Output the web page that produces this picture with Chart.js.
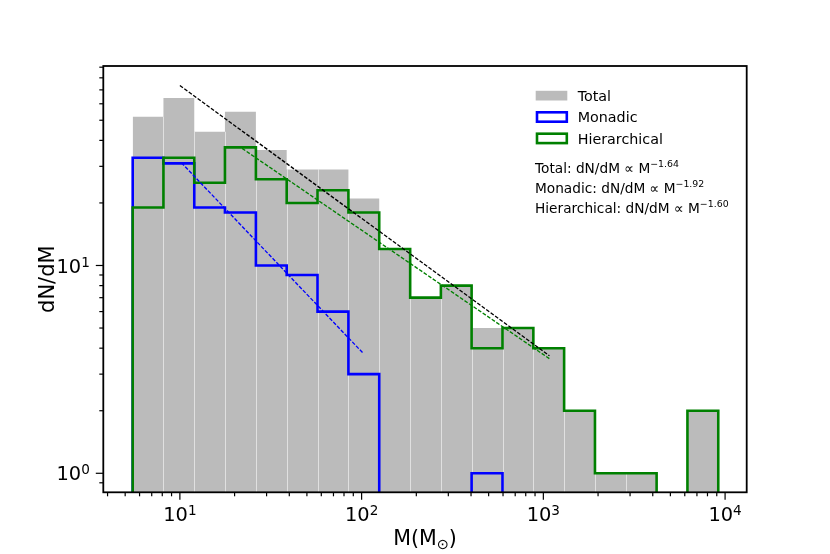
<!DOCTYPE html>
<html>
<head>
<meta charset="utf-8">
<script src="https://cdn.jsdelivr.net/npm/chart.js@4.4.1/dist/chart.umd.min.js"></script>
<style>
  html, body { margin: 0; padding: 0; background: #fff; }
  #wrap { width: 830px; height: 554px; }
</style>
</head>
<body>
<div id="wrap"><canvas id="histChart" width="830" height="554"></canvas></div>
<script>
// bin edges in M_sun (log spaced)
const binEdges = [5.5, 8.12, 12.0, 17.7, 26.2, 38.7, 57.2, 84.6, 125, 185, 273, 403, 596, 881, 1301, 1923, 2842, 4200, 6206, 9172];
const totalCounts = [52, 64, 44, 55, 36, 29, 29, 21, 12, 7, 8, 5, 5, 4, 2, 1, 1, 0, 2];
const monadicCounts = [33, 31, 19, 18, 10, 9, 6, 3, 0, 0, 0, 1, 0, 0, 0, 0, 0, 0, 0];
const hierCounts = [19, 33, 25, 37, 26, 20, 23, 18, 12, 7, 8, 4, 5, 4, 2, 1, 1, 0, 2];

// dashed power-law fits, end points
const fitTotalM = [10, 1080];
const fitTotalN = [73.5, 3.68];
const fitMonadicM = [10.2, 102];
const fitMonadicN = [31.2, 3.78];
const fitHierM = [22, 1080];
const fitHierN = [36.6, 3.56];

const legendLabels = ["Total", "Monadic", "Hierarchical"];
const fitNames = ["Total", "Monadic", "Hierarchical"];
const fitSlopes = ["1.64", "1.92", "1.60"];

const xMajorTicks = [10, 100, 1000, 10000];
const xTickExp = ["1", "2", "3", "4"];
const xMinorTicks = [4, 5, 6, 7, 8, 9, 20, 30, 40, 50, 60, 70, 80, 90,
  200, 300, 400, 500, 600, 700, 800, 900, 2000, 3000, 4000, 5000, 6000, 7000, 8000, 9000];
const yMajorTicks = [1, 10];
const yTickExp = ["0", "1"];
const yMinorTicks = [0.9, 2, 3, 4, 5, 6, 7, 8, 9, 20, 30, 40, 50, 60, 70, 80, 90];

const FONT = '"DejaVu Sans", "Liberation Sans", sans-serif';
const FLOOR = 0.1; // below the axis: empty bins fall out of view

// outline points: horizontal at each count, vertical at each edge
function stepPoints(counts) {
  const pts = [{ x: binEdges[0], y: FLOOR }];
  counts.forEach((c, i) => pts.push({ x: binEdges[i + 1], y: c > 0 ? c : FLOOR }));
  pts.push({ x: binEdges[counts.length], y: FLOOR });
  return pts;
}

function lineSet(xs, ys) {
  return xs.map((x, i) => ({ x: x, y: ys[i] }));
}

function drawPow(ctx, base, exp, x, y, align, baseSize, supSize, rise) {
  ctx.font = baseSize + "px " + FONT;
  const wb = ctx.measureText(base).width;
  ctx.font = supSize + "px " + FONT;
  const ws = ctx.measureText(exp).width;
  let left = x;
  if (align === "center") left = x - (wb + ws) / 2;
  if (align === "right") left = x - wb - ws;
  ctx.textAlign = "left";
  ctx.font = baseSize + "px " + FONT;
  ctx.fillText(base, left, y);
  ctx.font = supSize + "px " + FONT;
  ctx.fillText(exp, left + wb, y - rise);
}

const axisFrame = {
  id: "axisFrame",
  afterDatasetDraw(chart, args) {
    if (args.index !== 0) return;
    // thin light edges between the grey bars
    const { ctx, chartArea: area, scales: { x, y } } = chart;
    ctx.save();
    ctx.strokeStyle = "rgba(255,255,255,0.55)";
    ctx.lineWidth = 1;
    for (let i = 1; i < totalCounts.length; i++) {
      const h = Math.min(totalCounts[i - 1], totalCounts[i]);
      if (h <= 0) continue;
      const px = Math.round(x.getPixelForValue(binEdges[i])) + 0.5;
      ctx.beginPath();
      ctx.moveTo(px, area.bottom);
      ctx.lineTo(px, y.getPixelForValue(h));
      ctx.stroke();
    }
    ctx.restore();
  },
  afterDraw(chart) {
    const { ctx, chartArea: area, scales: { x, y } } = chart;
    ctx.save();
    ctx.fillStyle = "#000";
    ctx.strokeStyle = "#000";

    // ticks
    ctx.lineWidth = 1.2;
    const tick = (px, len, vertical) => {
      ctx.beginPath();
      if (vertical) { ctx.moveTo(px, area.bottom); ctx.lineTo(px, area.bottom + len); }
      else { ctx.moveTo(area.left, px); ctx.lineTo(area.left - len, px); }
      ctx.stroke();
    };
    xMajorTicks.forEach(v => tick(x.getPixelForValue(v), 7.5, true));
    xMinorTicks.forEach(v => tick(x.getPixelForValue(v), 4, true));
    yMajorTicks.forEach(v => tick(y.getPixelForValue(v), 7.5, false));
    yMinorTicks.forEach(v => { if (v >= y.min && v <= y.max) tick(y.getPixelForValue(v), 4, false); });

    // frame
    ctx.lineWidth = 1.8;
    ctx.strokeRect(area.left, area.top, area.right - area.left, area.bottom - area.top);

    // tick labels
    ctx.textBaseline = "alphabetic";
    xMajorTicks.forEach((v, i) => {
      drawPow(ctx, "10", xTickExp[i], x.getPixelForValue(v), area.bottom + 28.7, "center", 19.4, 13.6, 6);
    });
    yMajorTicks.forEach((v, i) => {
      drawPow(ctx, "10", yTickExp[i], area.left - 13.5, y.getPixelForValue(v) + 7.2, "right", 19.4, 13.6, 6);
    });

    // axis titles
    const cx = (area.left + area.right) / 2;
    ctx.font = "20.6px " + FONT;
    const wa = ctx.measureText("M(M").width;
    const wc = ctx.measureText(")").width;
    ctx.font = "14.4px " + FONT;
    const wsun = ctx.measureText("\u2299").width;
    let lx = cx - (wa + wsun + wc) / 2;
    ctx.textAlign = "left";
    ctx.font = "20.6px " + FONT;
    ctx.fillText("M(M", lx, 545);
    ctx.font = "14.4px " + FONT;
    ctx.fillText("\u2299", lx + wa, 548.5);
    ctx.font = "20.6px " + FONT;
    ctx.fillText(")", lx + wa + wsun, 545);

    ctx.save();
    ctx.translate(53.5, (area.top + area.bottom) / 2);
    ctx.rotate(-Math.PI / 2);
    ctx.textAlign = "center";
    ctx.font = "21px " + FONT;
    ctx.fillText("dN/dM", 0, 0);
    ctx.restore();

    // legend
    const rows = [95.6, 117, 138.4];
    const hx = 537, hw = 29.8;
    ctx.fillStyle = "#bbbbbb";
    ctx.fillRect(535.7, rows[0] - 4.8, 31.6, 9.7);
    ctx.lineWidth = 2.6;
    ctx.strokeStyle = "#0000ff";
    ctx.strokeRect(hx, rows[1] - 4.7, hw, 9.4);
    ctx.strokeStyle = "#008000";
    ctx.strokeRect(hx, rows[2] - 4.7, hw, 9.4);
    ctx.fillStyle = "#000";
    ctx.font = "14.3px " + FONT;
    ctx.textAlign = "left";
    legendLabels.forEach((t, i) => ctx.fillText(t, 577.7, rows[i] + 5.2));

    // fit annotations
    const fitBase = [172.8, 193, 213.2];
    fitNames.forEach((n, i) => {
      drawPow(ctx, n + ": dN/dM \u221D M", "\u2212" + fitSlopes[i], 535, fitBase[i], "left", 13.7, 9.4, 6);
    });
    ctx.restore();
  }
};

new Chart(document.getElementById("histChart"), {
  type: "line",
  data: {
    datasets: [
      { label: "Total", data: stepPoints(totalCounts), stepped: "after", fill: "origin",
        backgroundColor: "#bbbbbb", borderWidth: 0, pointRadius: 0, order: 6, clip: 0 },
      { label: "Monadic", data: stepPoints(monadicCounts), stepped: "after", fill: false,
        borderColor: "#0000ff", borderWidth: 2.6, borderJoinStyle: "miter", pointRadius: 0, order: 5, clip: 0 },
      { label: "Hierarchical", data: stepPoints(hierCounts), stepped: "after", fill: false,
        borderColor: "#008000", borderWidth: 2.6, borderJoinStyle: "miter", pointRadius: 0, order: 4, clip: 0 },
      { label: "fit total", data: lineSet(fitTotalM, fitTotalN), fill: false, borderColor: "#000",
        borderWidth: 1.35, borderDash: [3.8, 1.7], pointRadius: 0, order: 1 },
      { label: "fit hier", data: lineSet(fitHierM, fitHierN), fill: false, borderColor: "#008000",
        borderWidth: 1.35, borderDash: [3.8, 1.7], pointRadius: 0, order: 2 },
      { label: "fit monadic", data: lineSet(fitMonadicM, fitMonadicN), fill: false, borderColor: "#0000ff",
        borderWidth: 1.35, borderDash: [3.8, 1.7], pointRadius: 0, order: 3 }
    ]
  },
  options: {
    responsive: false,
    animation: false,
    events: [],
    layout: { padding: { left: 103.3, top: 66, right: 83.3, bottom: 61.7 } },
    plugins: { legend: { display: false }, tooltip: { enabled: false } },
    scales: {
      x: { type: "logarithmic", min: 3.79, max: 13150, display: false },
      y: { type: "logarithmic", min: 0.81, max: 91.2, display: false }
    }
  },
  plugins: [axisFrame]
});
</script>
</body>
</html>
